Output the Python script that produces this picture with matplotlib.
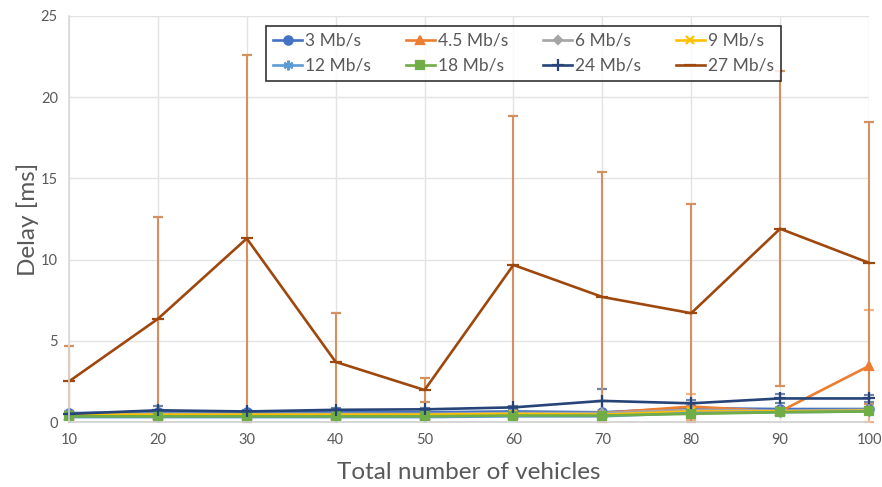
import numpy as np
import matplotlib.pyplot as plt

plt.rcParams['font.family'] = ['Lato', 'DejaVu Sans']

vehicles = [10, 20, 30, 40, 50, 60, 70, 80, 90, 100]
labels = ['3 Mb/s', '4.5 Mb/s', '6 Mb/s', '9 Mb/s', '12 Mb/s', '18 Mb/s', '24 Mb/s', '27 Mb/s']

d3 = [0.55, 0.6, 0.6, 0.6, 0.6, 0.65, 0.6, 0.85, 0.8, 0.8]
d45 = [0.45, 0.45, 0.45, 0.45, 0.45, 0.5, 0.55, 0.95, 0.65, 3.45]
d6 = [0.5, 0.5, 0.5, 0.5, 0.5, 0.55, 0.55, 0.75, 0.7, 0.75]
d9 = [0.45, 0.45, 0.45, 0.45, 0.45, 0.5, 0.45, 0.65, 0.65, 0.7]
d12 = [0.3, 0.3, 0.3, 0.3, 0.3, 0.35, 0.35, 0.55, 0.6, 0.65]
d18 = [0.35, 0.35, 0.35, 0.35, 0.35, 0.4, 0.4, 0.5, 0.6, 0.65]
d24 = [0.5, 0.72, 0.65, 0.75, 0.78, 0.9, 1.3, 1.15, 1.45, 1.45]
d27 = [2.5, 6.35, 11.3, 3.7, 1.97, 9.67, 7.7, 6.7, 11.9, 9.8]

e3 = [0.1, 0.1, 0.1, 0.1, 0.1, 0.1, 0.1, 0.3, 0.15, 0.1]
e45 = [0.1, 0.15, 0.1, 0.1, 0.1, 0.1, 0.15, 0.8, 0.1, 3.45]
e6 = [0.1, 0.1, 0.1, 0.1, 0.1, 0.1, 0.1, 0.3, 0.1, 0.1]
e9 = [0.1, 0.1, 0.1, 0.1, 0.1, 0.1, 0.1, 0.2, 0.1, 0.1]
e12 = [0.1, 0.1, 0.1, 0.1, 0.1, 0.1, 0.1, 0.2, 0.1, 0.1]
e18 = [0.1, 0.1, 0.1, 0.1, 0.1, 0.1, 0.1, 0.2, 0.1, 0.1]
e24 = [0.1, 0.25, 0.1, 0.1, 0.1, 0.1, 0.75, 0.2, 0.25, 0.2]
e27 = [2.2, 6.3, 11.3, 3.0, 0.73, 9.2, 7.7, 6.7, 9.7, 8.7]

series = [d3, d45, d6, d9, d12, d18, d24, d27]
errors = [e3, e45, e6, e9, e12, e18, e24, e27]
colors = ['#4472C4', '#ED7D31', '#A5A5A5', '#FFC000', '#5B9BD5', '#70AD47', '#264478', '#9E480E']
ecolors = ['#8FAADC', '#F4B183', '#C9C9C9', '#FFD966', '#9DC3E6', '#A9D18E', '#6F84A8', '#D4915F']
markers = ['o', '^', 'D', 'x', (6, 2, 0), 's', '+', '_']
msizes = [6, 6, 4.5, 6, 7, 6, 8, 8]

fig = plt.figure(figsize=(8.82, 4.87), dpi=100)
ax = fig.add_axes([69/882, 65/487, 800/882, 406/487])

handles = []
for y, e, c, ec, m, ms, lab in zip(series, errors, colors, ecolors, markers, msizes, labels):
    h = ax.errorbar(vehicles, y, yerr=e, color=c, ecolor=ec, elinewidth=1.5,
                    capsize=3.5, capthick=1.5, marker=m, markersize=ms,
                    markeredgewidth=1.6, linewidth=1.9, label=lab)
    # markers at the axis ends are drawn whole
    for art in h.lines:
        if art is None:
            continue
        for a in (art if isinstance(art, tuple) else (art,)):
            a.set_clip_on(False)
    for coll in h[2]:
        coll.set_clip_on(False)
    handles.append(h[0])

ax.set_xlim(10, 100)
ax.set_ylim(0, 25)
ax.set_xticks(vehicles)
ax.set_yticks([0, 5, 10, 15, 20, 25])
ax.grid(True, color='#E3E3E3', linewidth=1)
ax.set_axisbelow(True)
for s in ['top', 'right']:
    ax.spines[s].set_visible(False)
ax.spines['left'].set_color('#D9D9D9')
ax.spines['bottom'].set_color('#D0D0D0')
ax.spines['left'].set_linewidth(1.2)
ax.spines['bottom'].set_linewidth(1.2)
ax.tick_params(length=0, colors='#595959', labelsize=10.5, pad=8)

ax.set_xlabel('Total number of vehicles', fontsize=17.5, color='#595959', labelpad=11)
ax.set_ylabel('Delay [ms]', fontsize=17.5, color='#595959', labelpad=1)

# legend fills column-wise, so interleave rows
order = [0, 4, 1, 5, 2, 6, 3, 7]
leg = ax.legend([handles[i] for i in order], [labels[i] for i in order], ncol=4,
                loc='upper left', bbox_to_anchor=(266/882, 1 - 26/487),
                bbox_transform=fig.transFigure, fontsize=12.5, frameon=True,
                fancybox=False, edgecolor='black', handlelength=1.7,
                handletextpad=0.15, columnspacing=2.0, borderpad=0.4,
                labelspacing=0.5, borderaxespad=0)
leg.get_frame().set_linewidth(1.2)
for t in leg.get_texts():
    t.set_color('#595959')

fig.savefig('out.png', dpi=100)
